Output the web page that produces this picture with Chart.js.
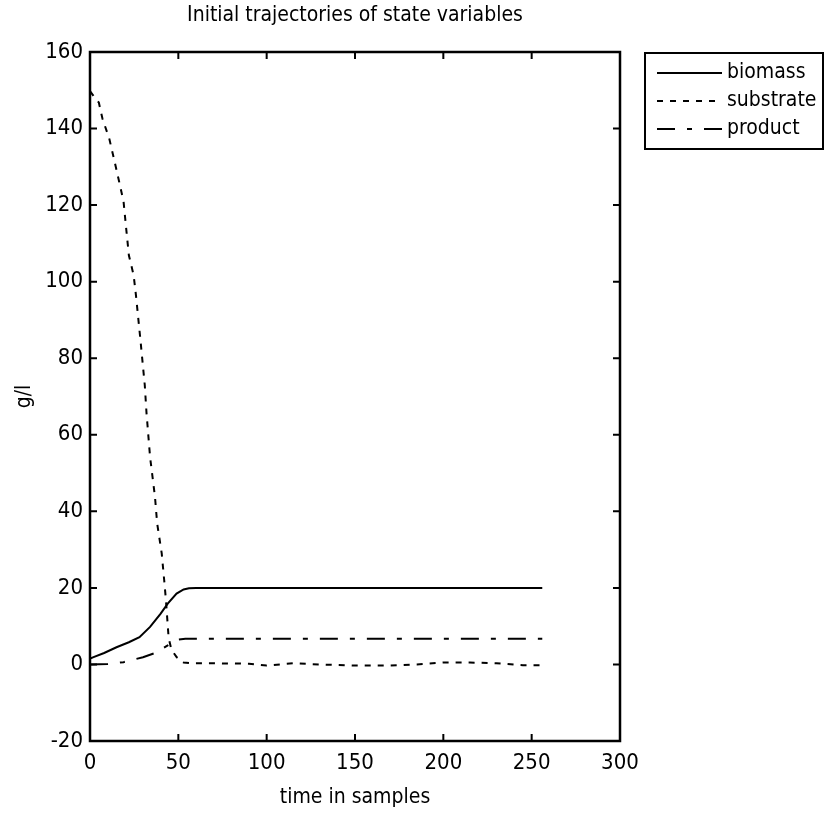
<!DOCTYPE html>
<html>
<head>
<meta charset="utf-8">
<script src="https://cdn.jsdelivr.net/npm/chart.js@4.4.1/dist/chart.umd.min.js"></script>
<style>
  html, body { margin: 0; padding: 0; background: #fff; }
  #wrap { width: 825px; height: 816px; }
</style>
</head>
<body>
<div id="wrap"><canvas id="chart" width="825" height="816"></canvas></div>
<script>
// values (time in samples -> g/l)
const biomassT = [0, 2, 8, 15, 22, 28, 34, 40, 44, 49, 53, 56, 60, 256];
const biomassY = [1.5, 1.9, 3.0, 4.5, 5.8, 7.1, 9.8, 13.3, 15.9, 18.5, 19.6, 19.9, 20, 20];

const substrateT = [0, 2, 5, 7, 11, 14, 17, 19, 20.5, 22, 24.7, 26, 28.5, 31, 32, 34, 36.8, 38, 40.6, 42, 43, 44.5, 46, 49, 53, 57, 70, 90, 100, 115, 130, 150, 170, 185, 200, 215, 230, 245, 256];
const substrateY = [149.8, 148.5, 146.8, 142.7, 137.2, 131.2, 125.1, 120.9, 113.8, 106.9, 101.7, 96.5, 85, 73, 65.6, 54.2, 43.7, 36.9, 29, 22, 16.7, 7, 4, 1.9, 0.5, 0.3, 0.3, 0.2, -0.3, 0.3, 0, -0.3, -0.3, 0, 0.5, 0.5, 0.3, -0.2, -0.2];

const productT = [0, 10, 19, 30, 38, 44, 47, 50, 54, 256];
const productY = [0, 0.1, 0.6, 1.9, 3.2, 5.0, 5.8, 6.5, 6.7, 6.7];

const xTicks = [0, 50, 100, 150, 200, 250, 300];
const yTicks = [-20, 0, 20, 40, 60, 80, 100, 120, 140, 160];

const FONT = "'DejaVu Sans Condensed', 'Liberation Sans Narrow', 'Arial Narrow', sans-serif";

const toPoints = (ts, ys) => ts.map((t, i) => ({ x: t, y: ys[i] }));

// MATLAB style box with inward ticks on all four sides
const boxPlugin = {
  id: 'box',
  afterDraw(chart) {
    const { ctx, chartArea: a, scales } = chart;
    ctx.save();
    ctx.strokeStyle = '#000';
    ctx.lineWidth = 2.5;
    ctx.strokeRect(a.left, a.top, a.right - a.left, a.bottom - a.top);
    ctx.lineWidth = 2;
    const len = 7;
    ctx.beginPath();
    xTicks.forEach(v => {
      const px = scales.x.getPixelForValue(v);
      ctx.moveTo(px, a.bottom); ctx.lineTo(px, a.bottom - len);
      ctx.moveTo(px, a.top); ctx.lineTo(px, a.top + len);
    });
    yTicks.forEach(v => {
      const py = scales.y.getPixelForValue(v);
      ctx.moveTo(a.left, py); ctx.lineTo(a.left + len, py);
      ctx.moveTo(a.right, py); ctx.lineTo(a.right - len, py);
    });
    ctx.stroke();
    ctx.restore();
  }
};

// legend box outside the axes, top right
const legendPlugin = {
  id: 'boxLegend',
  afterDraw(chart) {
    const { ctx } = chart;
    const left = 645, top = 53, right = 823, rowH = 28;
    const sets = chart.data.datasets;
    const h = rowH * sets.length + 12;
    ctx.save();
    ctx.fillStyle = '#fff';
    ctx.fillRect(left, top, right - left, h);
    ctx.strokeStyle = '#000';
    ctx.lineWidth = 2;
    ctx.strokeRect(left, top, right - left, h);
    ctx.font = '21px ' + FONT;
    ctx.textBaseline = 'middle';
    ctx.fillStyle = '#000';
    sets.forEach((ds, i) => {
      const y = top + 20 + i * rowH;
      ctx.setLineDash(ds.borderDash || []);
      ctx.lineWidth = 2;
      ctx.beginPath();
      ctx.moveTo(657, y);
      ctx.lineTo(722, y);
      ctx.stroke();
      ctx.setLineDash([]);
      ctx.fillText(ds.label, 727, y);
    });
    ctx.restore();
  }
};

const lineStyle = {
  borderColor: '#000',
  backgroundColor: '#000',
  borderWidth: 2,
  pointRadius: 0,
  fill: false,
  tension: 0
};

const tickFont = { family: FONT, size: 22 };

new Chart(document.getElementById('chart'), {
  type: 'line',
  data: {
    datasets: [
      { ...lineStyle, label: 'biomass', data: toPoints(biomassT, biomassY) },
      { ...lineStyle, label: 'substrate', data: toPoints(substrateT, substrateY), borderDash: [6, 7] },
      { ...lineStyle, label: 'product', data: toPoints(productT, productY), borderDash: [18, 12, 5, 12] }
    ]
  },
  options: {
    responsive: false,
    animation: false,
    layout: { padding: { left: 0, right: 205, top: 0, bottom: 0 } },
    plugins: {
      legend: { display: false },
      tooltip: { enabled: false },
      title: { display: false }
    },
    scales: {
      // top axis only carries the title so it is centred over the axes
      top: {
        type: 'linear',
        position: 'top',
        min: 0,
        max: 300,
        afterFit: s => { s.height = 52; },
        grid: { display: false, drawTicks: false },
        border: { display: false },
        ticks: { display: false },
        title: {
          display: true,
          text: 'Initial trajectories of state variables',
          color: '#000',
          padding: { top: 3, bottom: 0 },
          font: { family: FONT, size: 21 }
        }
      },
      x: {
        type: 'linear',
        position: 'bottom',
        min: 0,
        max: 300,
        afterBuildTicks: s => { s.ticks = xTicks.map(v => ({ value: v })); },
        afterFit: s => { s.height = 75; },
        grid: { display: false, drawTicks: false },
        border: { display: false },
        ticks: { color: '#000', padding: 9, font: tickFont },
        title: {
          display: true,
          text: 'time in samples',
          color: '#000',
          padding: { top: 2, bottom: 6 },
          font: { family: FONT, size: 21 }
        }
      },
      y: {
        type: 'linear',
        min: -20,
        max: 160,
        afterBuildTicks: s => { s.ticks = yTicks.map(v => ({ value: v })); },
        afterFit: s => { s.width = 90; },
        grid: { display: false, drawTicks: false },
        border: { display: false },
        ticks: { color: '#000', padding: 7, font: tickFont },
        title: {
          display: true,
          text: 'g/l',
          color: '#000',
          padding: { top: 12, bottom: 0 },
          font: { family: FONT, size: 21 }
        }
      }
    }
  },
  plugins: [boxPlugin, legendPlugin]
});
</script>
</body>
</html>
